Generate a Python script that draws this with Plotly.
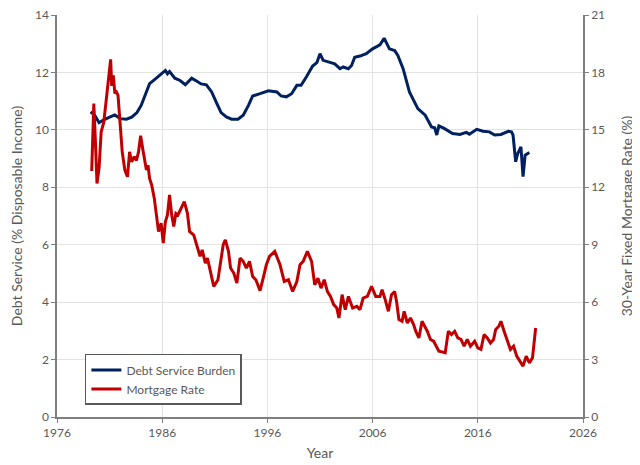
import plotly.graph_objects as go

# Debt service burden (% of disposable income)
dsr_year = [1979.2, 1979.6, 1980.0, 1980.4, 1981.0, 1981.5, 1982.0, 1982.6, 1983.1, 1983.6,
            1984.0, 1984.4, 1984.8, 1985.3, 1985.9, 1986.3, 1986.5, 1986.7, 1987.2, 1987.7,
            1988.2, 1988.5, 1988.8, 1989.3, 1989.7, 1990.2, 1990.7, 1991.2, 1991.6, 1992.1,
            1992.6, 1993.2, 1993.7, 1994.2, 1994.6, 1995.3, 1996.1, 1996.9, 1997.3, 1997.8,
            1998.3, 1998.8, 1999.2, 1999.7, 2000.3, 2000.7, 2001.0, 2001.3, 2001.8, 2002.4,
            2002.9, 2003.2, 2003.7, 2004.0, 2004.3, 2004.8, 2005.4, 2006.0, 2006.7, 2007.1,
            2007.6, 2008.1, 2008.4, 2008.9, 2009.5, 2010.3, 2011.0, 2011.6, 2011.9, 2012.1,
            2012.3, 2012.8, 2013.6, 2014.3, 2014.9, 2015.2, 2015.9, 2016.5, 2017.1, 2017.6,
            2018.2, 2018.9, 2019.2, 2019.35, 2019.6, 2019.8, 2020.1, 2020.3, 2020.5, 2020.9]
dsr_value = [10.63, 10.5, 10.25, 10.34, 10.44, 10.52, 10.39, 10.37, 10.44, 10.6,
             10.85, 11.2, 11.61, 11.76, 11.95, 12.07, 11.95, 12.03, 11.8, 11.72,
             11.57, 11.69, 11.8, 11.69, 11.6, 11.57, 11.32, 10.91, 10.6, 10.45,
             10.37, 10.37, 10.51, 10.85, 11.18, 11.26, 11.36, 11.32, 11.18, 11.15,
             11.26, 11.55, 11.55, 11.84, 12.22, 12.34, 12.65, 12.42, 12.36, 12.3,
             12.13, 12.19, 12.13, 12.24, 12.53, 12.57, 12.65, 12.82, 12.96, 13.19,
             12.82, 12.76, 12.59, 12.13, 11.32, 10.74, 10.51, 10.1, 10.07, 9.82,
             10.14, 10.05, 9.87, 9.84, 9.91, 9.85, 10.02, 9.95, 9.93, 9.82,
             9.84, 9.95, 9.93, 9.82, 8.89, 9.18, 9.41, 8.37, 9.12, 9.21]

# 30-year fixed mortgage rate (%)
mr_year = [1979.3, 1979.5, 1979.65, 1979.8, 1980.0, 1980.2, 1980.45, 1980.6, 1980.75, 1980.95,
           1981.1, 1981.2, 1981.35, 1981.5, 1981.65, 1981.8, 1981.9, 1982.05, 1982.2, 1982.45,
           1982.7, 1982.9, 1983.1, 1983.35, 1983.55, 1983.75, 1983.95, 1984.15, 1984.35, 1984.5,
           1984.65, 1984.8, 1985.0, 1985.25, 1985.45, 1985.65, 1985.9, 1986.1, 1986.3, 1986.5,
           1986.7, 1986.9, 1987.1, 1987.3, 1987.5, 1987.8, 1988.1, 1988.4, 1988.6, 1989.0,
           1989.3, 1989.6, 1989.8, 1990.1, 1990.3, 1990.6, 1990.9, 1991.3, 1991.6, 1991.8,
           1992.0, 1992.3, 1992.5, 1992.8, 1993.1, 1993.4, 1993.7, 1994.0, 1994.3, 1994.6,
           1994.9, 1995.3, 1995.6, 1995.9, 1996.2, 1996.7, 1997.2, 1997.6, 1998.0, 1998.4,
           1998.8, 1999.1, 1999.4, 1999.8, 2000.2, 2000.5, 2000.8, 2001.1, 2001.4, 2001.7,
           2002.0, 2002.3, 2002.6, 2002.8, 2003.1, 2003.4, 2003.7, 2004.1, 2004.5, 2004.8,
           2005.1, 2005.5, 2005.9, 2006.3, 2006.7, 2006.9, 2007.2, 2007.5, 2007.8, 2008.1,
           2008.3, 2008.5, 2008.8, 2009.0, 2009.3, 2009.6, 2009.9, 2010.1, 2010.4, 2010.7,
           2011.2, 2011.5, 2011.8, 2012.1, 2012.3, 2012.6, 2012.9, 2013.2, 2013.5, 2013.8,
           2014.1, 2014.4, 2014.7, 2015.0, 2015.3, 2015.7, 2016.0, 2016.3, 2016.6, 2016.9,
           2017.2, 2017.5, 2017.7, 2018.0, 2018.2, 2018.5, 2018.8, 2019.1, 2019.4, 2019.7,
           2020.0, 2020.3, 2020.6, 2020.9, 2021.2, 2021.5]
mr_value = [12.85, 16.37, 14.4, 12.2, 13.0, 14.9, 15.4, 16.1, 16.8, 17.85,
            18.68, 17.3, 17.85, 16.9, 16.98, 16.8, 16.1, 14.7, 13.85, 12.9,
            12.55, 13.85, 13.33, 13.6, 13.4, 13.85, 14.69, 14.0, 13.24, 12.9,
            13.16, 12.46, 12.12, 11.42, 10.56, 9.69, 10.12, 9.08, 10.2, 10.56,
            11.6, 10.56, 9.95, 10.64, 10.56, 10.9, 11.25, 10.64, 9.69, 9.5,
            9.0, 8.39, 8.73, 8.04, 8.3, 7.6, 6.82, 7.17, 8.13, 9.0,
            9.25, 8.65, 7.78, 7.52, 7.0, 8.3, 8.13, 7.78, 8.13, 7.34,
            7.17, 6.6, 7.25, 7.95, 8.39, 8.65, 7.95, 7.08, 7.17, 6.56,
            7.08, 7.95, 8.13, 8.65, 8.13, 6.9, 7.25, 6.73, 7.17, 6.56,
            6.3, 5.87, 5.69, 5.17, 6.39, 5.61, 6.3, 5.69, 5.78, 5.61,
            6.21, 6.3, 6.82, 6.3, 6.3, 6.65, 6.13, 5.52, 6.39, 6.56,
            5.95, 5.09, 5.0, 5.52, 4.91, 5.17, 4.83, 4.48, 4.13, 5.0,
            4.48, 4.05, 3.96, 3.61, 3.44, 3.4, 3.35, 4.48, 4.31, 4.48,
            4.13, 4.05, 3.7, 4.05, 3.7, 3.96, 3.61, 3.53, 4.31, 4.13,
            3.87, 4.05, 4.57, 4.74, 5.0, 4.48, 3.96, 3.53, 3.7, 3.18,
            2.92, 2.66, 3.18, 2.83, 3.09, 4.65]

grey = "#595959"
font = "Lato"

fig = go.Figure()
fig.add_trace(go.Scatter(x=dsr_year, y=dsr_value, mode="lines", name="Debt Service Burden",
                         line=dict(color="#002060", width=3)))
fig.add_trace(go.Scatter(x=mr_year, y=mr_value, mode="lines", name="Mortgage Rate",
                         line=dict(color="#C00000", width=3), yaxis="y2"))

axis_common = dict(showline=True, linecolor="#7f7f7f", linewidth=1.5, ticks="outside",
                   tickcolor="#7f7f7f", ticklen=4, automargin=False, ticklabeloverflow="allow",
                   tickfont=dict(family=font, size=12, color=grey),
                   title_font=dict(family=font, size=14, color=grey), zeroline=False)

# page body has an 8px margin, so the figure is a bit smaller and the margins shifted
fig.update_layout(
    width=632, height=457,
    margin=dict(l=49, r=57, t=7, b=48),
    plot_bgcolor="white", paper_bgcolor="white",
    showlegend=True,
    legend=dict(x=0.053, y=0.03, xanchor="left", yanchor="bottom",
                bordercolor="#595959", borderwidth=1.5, bgcolor="white", itemwidth=30,
                font=dict(family=font, size=12, color=grey), tracegroupgap=2),
    xaxis=dict(range=[1976, 2026], dtick=10, tick0=1976, showgrid=True,
               gridcolor="#e3e3e3", title=dict(text="Year", standoff=9), **axis_common),
    yaxis=dict(range=[0, 14], dtick=2, showgrid=True, gridcolor="#e3e3e3",
               title=dict(text="Debt Service (% Disposable Income)", standoff=24), **axis_common),
    yaxis2=dict(range=[0, 21], dtick=3, overlaying="y", side="right", showgrid=False,
                title=dict(text="30-Year Fixed Mortgage Rate (%)", standoff=18), **axis_common),
)

fig.write_html("out.html")
